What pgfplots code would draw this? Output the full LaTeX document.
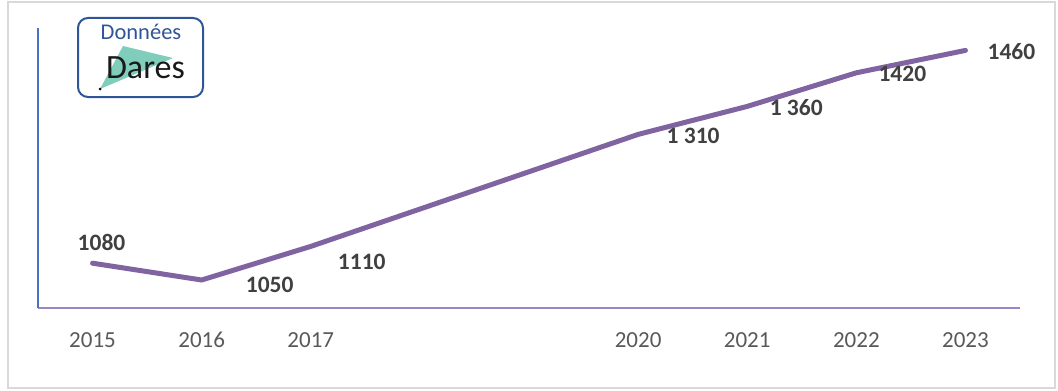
\documentclass[border=0pt]{standalone}
\usepackage{pgfplots}
\pgfplotsset{compat=1.18}
\usepackage{fontspec}
\setmainfont{Carlito}
\definecolor{linepurple}{HTML}{8064A2}
\definecolor{xaxispurple}{HTML}{9B85C4}
\definecolor{yaxisblue}{HTML}{4472C4}
\definecolor{labgray}{HTML}{404040}
\definecolor{tickgray}{HTML}{595959}
\definecolor{framegray}{HTML}{D9D9D9}
\definecolor{logoblue}{HTML}{2F5597}
\definecolor{logoteal}{HTML}{80CDBC}
\pgfplotstableread{
year value
2015 1080
2016 1050
2017 1110
2020 1310
2021 1360
2022 1420
2023 1460
}\datatable
\begin{document}
\begin{tikzpicture}[x=1bp,y=1bp]
\useasboundingbox (0,0) rectangle (1058,390);
\draw[framegray, line width=1.5bp] (8,2) rectangle (1055,388);
\begin{axis}[
  at={(38bp,82bp)}, anchor=south west,
  scale only axis, width=982bp, height=280bp,
  xmin=2014.5, xmax=2023.5, ymin=1000, ymax=1500,
  axis x line=bottom, axis y line=left,
  axis line style={-},
  x axis line style={draw=xaxispurple, line width=1.8bp},
  y axis line style={draw=yaxisblue, line width=1.2bp},
  xtick={2015,2016,2017,2020,2021,2022,2023},
  xticklabels={2015,2016,2017,2020,2021,2022,2023},
  ytick=\empty,
  major tick length=0pt,
  xticklabel style={anchor=center, inner sep=0pt, yshift=-32bp, text=tickgray, font=\fontsize{23bp}{27bp}\selectfont},
  clip=false,
]
\addplot[linepurple, line width=5bp, line cap=round, line join=round] table[x=year, y=value] {\datatable};
\tikzset{lab/.style={font=\bfseries\fontsize{23.5bp}{28bp}\selectfont, text=labgray, inner sep=0pt, anchor=center}}
\node[lab, xshift=9bp, yshift=21bp] at (axis cs:2015,1080) {1080};
\node[lab, xshift=68bp, yshift=-5bp] at (axis cs:2016,1050) {1050};
\node[lab, xshift=51bp, yshift=-15bp] at (axis cs:2017,1110) {1110};
\node[lab, xshift=55bp, yshift=-1bp] at (axis cs:2020,1310) {1 310};
\node[lab, xshift=49bp, yshift=-1bp] at (axis cs:2021,1360) {1 360};
\node[lab, xshift=46bp, yshift=-1.5bp] at (axis cs:2022,1420) {1420};
\node[lab, xshift=46bp, yshift=-1bp] at (axis cs:2023,1460) {1460};
\end{axis}
% logo
\fill[logoteal] (100,301) -- (123,344) -- (173,332) -- cycle;
\fill[black] (100,301) circle (1.5);
\node[text=logoblue, font=\fontsize{22.5bp}{26bp}\selectfont, inner sep=0pt] at (141,358) {Données};
\node[text=black!90, font=\fontsize{34bp}{38bp}\selectfont, inner sep=0pt] at (145.5,322.5) {Dares};
\draw[logoblue, line width=2bp, rounded corners=10bp] (78,293) rectangle (203,372);
\end{tikzpicture}
\end{document}
